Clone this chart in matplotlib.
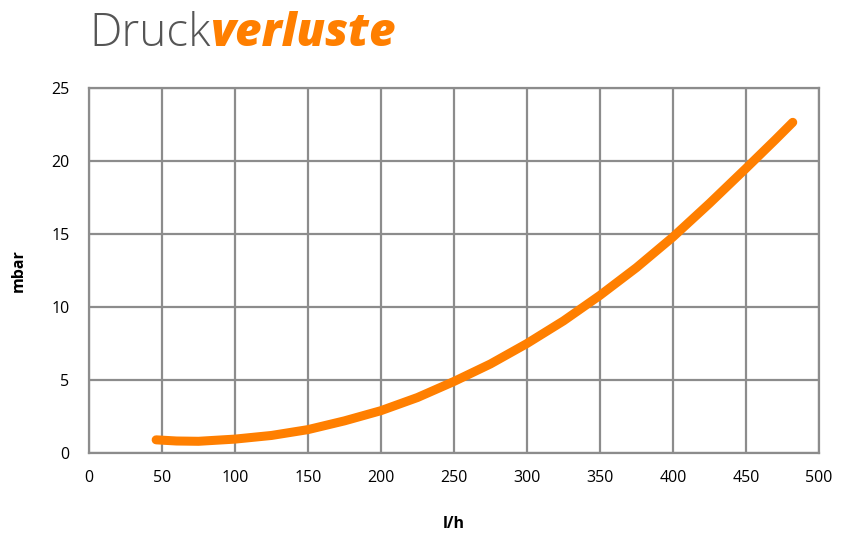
import matplotlib
matplotlib.use('Agg')
import matplotlib.pyplot as plt

# Durchfluss (l/h) und Druckverlust (mbar)
flow = [46, 60, 75, 100, 125, 150, 175, 200, 225, 250, 275, 300, 325, 350, 375, 400, 425, 450, 470, 482]
loss = [0.9, 0.82, 0.8, 0.95, 1.2, 1.6, 2.2, 2.9, 3.8, 4.9, 6.1, 7.5, 9.05, 10.8, 12.7, 14.8, 17.1, 19.5, 21.45, 22.65]

x_ticks = [0, 50, 100, 150, 200, 250, 300, 350, 400, 450, 500]
y_ticks = [0, 5, 10, 15, 20, 25]

orange = '#ff7f00'
grid_gray = '#8c8c8c'

plt.rcParams['font.family'] = ['Open Sans', 'DejaVu Sans']

fig = plt.figure(figsize=(8.49, 5.39), dpi=100)
ax = fig.add_axes([0.1048, 0.1596, 0.8599, 0.6771])

ax.plot(flow, loss, color=orange, linewidth=6.5, solid_capstyle='round', zorder=3)

ax.set_xlim(0, 500)
ax.set_ylim(0, 25)
ax.set_xticks(x_ticks)
ax.set_yticks(y_ticks)
ax.grid(True, color=grid_gray, linewidth=1.6)
ax.set_axisbelow(True)
for s in ax.spines.values():
    s.set_color(grid_gray)
    s.set_linewidth(1.6)
ax.tick_params(length=0, labelsize=11.5, pad=12)
ax.tick_params(axis='y', pad=14)

ax.set_xlabel('l/h', fontsize=11.5, fontweight='bold', labelpad=22)
ax.set_ylabel('mbar', fontsize=11.5, fontweight='bold', labelpad=18)

# Titel aus zwei Teilen
t1 = fig.text(0.1048, 0.915, 'Druck', fontsize=33, fontweight='light',
              color='#555555', va='baseline')
fig.canvas.draw()
bb = t1.get_window_extent()
x2 = bb.x1 / fig.bbox.width
fig.text(x2, 0.915, 'verluste', fontsize=33, fontweight='heavy', fontstyle='italic',
         color=orange, va='baseline')

fig.savefig('out.png', dpi=100)
